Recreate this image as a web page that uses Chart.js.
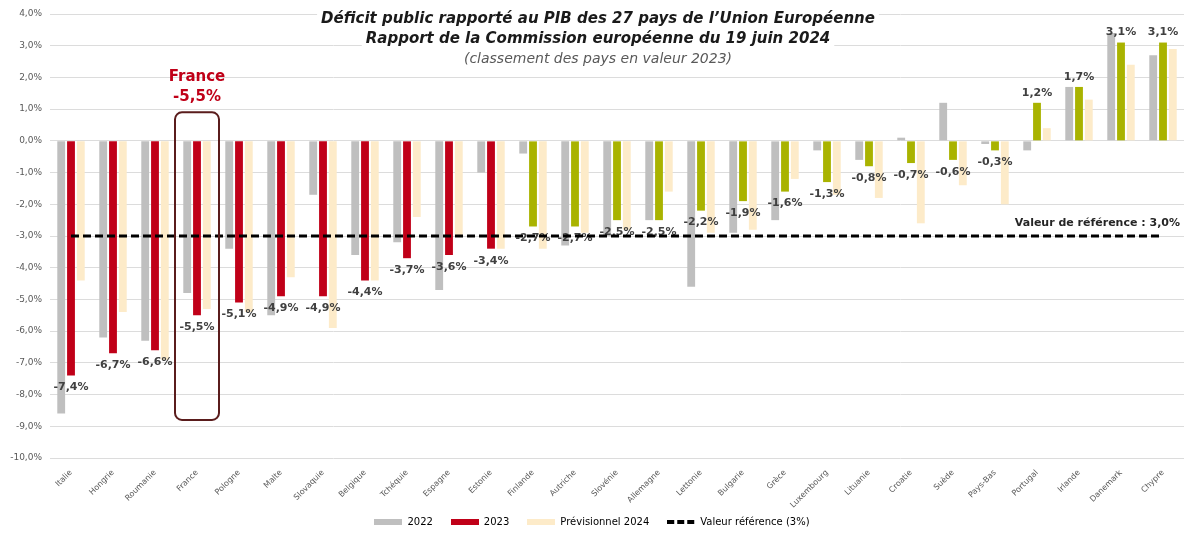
<!DOCTYPE html>
<html lang="fr">
<head>
<meta charset="utf-8">
<title>Déficit public UE 2022-2024</title>
<script src="https://cdn.jsdelivr.net/npm/chart.js@4.4.1/dist/chart.umd.min.js"></script>
<style>
  html, body { margin: 0; padding: 0; background: #fff; }
  #wrap { width: 1186px; height: 533px; }
</style>
</head>
<body>
<div id="wrap"><canvas id="chart" width="1186" height="533"></canvas></div>
<script>
// Données : déficit public en % du PIB (classement sur 2023)
const countries = ['Italie', 'Hongrie', 'Roumanie', 'France', 'Pologne', 'Malte', 'Slovaquie', 'Belgique',
    'Tchéquie', 'Espagne', 'Estonie', 'Finlande', 'Autriche', 'Slovénie', 'Allemagne', 'Lettonie', 'Bulgarie',
    'Grèce', 'Luxembourg', 'Lituanie', 'Croatie', 'Suède', 'Pays-Bas', 'Portugal', 'Irlande', 'Danemark', 'Chypre'];
const deficit2022 = [-8.6, -6.2, -6.3, -4.8, -3.4, -5.5, -1.7, -3.6, -3.2, -4.7, -1.0, -0.4, -3.3, -3.0, -2.5,
    -4.6, -2.9, -2.5, -0.3, -0.6, 0.1, 1.2, -0.1, -0.3, 1.7, 3.4, 2.7];
const deficit2023 = [-7.4, -6.7, -6.6, -5.5, -5.1, -4.9, -4.9, -4.4, -3.7, -3.6, -3.4, -2.7, -2.7, -2.5, -2.5,
    -2.2, -1.9, -1.6, -1.3, -0.8, -0.7, -0.6, -0.3, 1.2, 1.7, 3.1, 3.1];
const forecast2024 = [-4.4, -5.4, -6.9, -5.3, -5.4, -4.3, -5.9, -4.4, -2.4, -3.0, -3.4, -3.4, -2.9, -2.8, -1.6,
    -2.9, -2.8, -1.2, -1.7, -1.8, -2.6, -1.4, -2.0, 0.4, 1.3, 2.4, 2.9];
const referenceValue = -3.0;
const yTicks = { min: -10, max: 4, step: 1 };
const titleLines = [
    'Déficit public rapporté au PIB des 27 pays de l\u2019Union Européenne',
    'Rapport de la Commission européenne du 19 juin 2024',
    '(classement des pays en valeur 2023)'
];

const GREY = '#bfbfbf', RED = '#c00018', GREEN = '#a9b300', BEIGE = '#fdebc9';
const FONT = '"DejaVu Sans", sans-serif';
const pct = v => v.toFixed(1).replace('.', ',') + '%';

// couleur 2023 : rouge au-delà de la valeur de référence, vert sinon
const colors2023 = deficit2023.map(v => v < referenceValue ? RED : GREEN);

// petites vignettes pour la légende
function swatch(color, dashed) {
    const c = document.createElement('canvas');
    c.width = 28; c.height = 6;
    const g = c.getContext('2d');
    g.fillStyle = color;
    if (dashed) { for (let x = 0; x < 28; x += 10) g.fillRect(x, 1, 7, 4); }
    else g.fillRect(0, 0, 28, 6);
    return c;
}

// légende plus basse : on réserve peu de hauteur puis on la recale en bas du canvas
const legendHeight = {
    id: 'legendHeight',
    beforeLayout(chart) {
        const lg = chart.legend;
        if (!lg || lg._fixed) return;
        const fit = lg.fit;
        lg.fit = function () { fit.call(this); this.height = 22; };
        lg._fixed = true;
    },
    afterLayout(chart) {
        const lg = chart.legend;
        if (!lg) return;
        lg.top = chart.height - 34;
        lg.bottom = chart.height;
    }
};

const titleBlock = {
    id: 'titleBlock',
    beforeDatasetsDraw(chart) {
        const ctx = chart.ctx, cx = 598;
        const fonts = ['italic bold 15px ' + FONT, 'italic bold 15px ' + FONT, 'italic 14px ' + FONT];
        const ys = [19, 39, 59];
        ctx.save();
        ctx.textAlign = 'center';
        ctx.textBaseline = 'middle';
        titleLines.forEach((t, i) => {
            ctx.font = fonts[i];
            const w = ctx.measureText(t).width;
            ctx.fillStyle = '#fff';
            ctx.fillRect(cx - w / 2 - 4, ys[i] - 10, w + 8, 21);
        });
        titleLines.forEach((t, i) => {
            ctx.font = fonts[i];
            ctx.fillStyle = i < 2 ? '#1a1a1a' : '#595959';
            ctx.fillText(t, cx, ys[i]);
        });
        ctx.restore();
    }
};

// étiquettes de valeur 2023, dessinées après les barres et avant la ligne de référence
const valueLabels = {
    id: 'valueLabels',
    afterDatasetDraw(chart, args) {
        if (args.index !== 0) return;
        const ctx = chart.ctx;
        const meta = chart.getDatasetMeta(1);
        ctx.save();
        ctx.font = 'bold 11px ' + FONT;
        ctx.fillStyle = '#404040';
        ctx.textAlign = 'center';
        ctx.textBaseline = 'middle';
        meta.data.forEach((bar, i) => {
            const v = deficit2023[i];
            ctx.fillText(pct(v), bar.x, v < 0 ? bar.y + 12 : bar.y - 10);
        });
        ctx.restore();
    }
};

const annotations = {
    id: 'annotations',
    afterDatasetsDraw(chart) {
        const ctx = chart.ctx, x = chart.scales.x, y = chart.scales.y;
        const fi = countries.indexOf('France');
        const cx = x.getPixelForValue(fi);
        const top = y.getPixelForValue(0.9), bottom = y.getPixelForValue(-8.8);
        ctx.save();
        ctx.strokeStyle = '#5a1c1c';
        ctx.lineWidth = 2;
        ctx.beginPath();
        ctx.roundRect(cx - 22, top, 44, bottom - top, 7);
        ctx.stroke();
        ctx.fillStyle = RED;
        ctx.font = 'bold 15px ' + FONT;
        ctx.textAlign = 'center';
        ctx.textBaseline = 'middle';
        ctx.fillText('France', cx, 77);
        ctx.fillText(pct(deficit2023[fi]), cx, 97);
        ctx.font = 'bold 11px ' + FONT;
        ctx.fillStyle = '#262626';
        ctx.textAlign = 'right';
        ctx.fillText('Valeur de référence : ' + pct(-referenceValue), 1180, y.getPixelForValue(referenceValue) - 13);
        ctx.restore();
    }
};

new Chart(document.getElementById('chart'), {
    data: {
        labels: countries,
        datasets: [
            { type: 'bar', label: '2022', data: deficit2022, backgroundColor: GREY, order: 1,
              categoryPercentage: 0.7, barPercentage: 0.8 },
            { type: 'bar', label: '2023', data: deficit2023, backgroundColor: colors2023, order: 1,
              categoryPercentage: 0.7, barPercentage: 0.8 },
            { type: 'bar', label: 'Prévisionnel 2024', data: forecast2024, backgroundColor: BEIGE, order: 1,
              categoryPercentage: 0.7, barPercentage: 0.8 },
            { type: 'line', label: 'Valeur référence (3%)', data: countries.map(() => referenceValue),
              borderColor: '#000', borderWidth: 3, borderDash: [8, 4], pointRadius: 0, fill: false, order: 0 }
        ]
    },
    options: {
        responsive: false,
        animation: false,
        devicePixelRatio: 1,
        layout: { padding: { top: 14, right: 2, left: 0, bottom: 0 } },
        plugins: {
            tooltip: { enabled: false },
            title: { display: false },
            legend: {
                position: 'bottom',
                labels: {
                    usePointStyle: true,
                    pointStyleWidth: 28,
                    padding: 18,
                    color: '#595959',
                    font: { family: FONT, size: 10 },
                    generateLabels(chart) {
                        const sw = [swatch(GREY), swatch(RED), swatch(BEIGE), swatch('#000', true)];
                        return chart.data.datasets.map((ds, i) => ({
                            text: ds.label, datasetIndex: i, pointStyle: sw[i],
                            fillStyle: 'transparent', strokeStyle: 'transparent', lineWidth: 0, hidden: false
                        }));
                    }
                }
            }
        },
        scales: {
            x: {
                afterFit(s) { s.height = 53; },
                grid: { display: false },
                border: { display: false },
                ticks: { minRotation: 45, maxRotation: 45, padding: 2, color: '#595959', font: { family: FONT, size: 8 } }
            },
            y: {
                min: yTicks.min, max: yTicks.max,
                afterFit(s) { s.width = 50; },
                grid: { color: '#dcdcdc', drawTicks: false },
                border: { display: false },
                ticks: { stepSize: yTicks.step, padding: 8, color: '#595959', font: { family: FONT, size: 9 }, callback: v => pct(v) }
            }
        }
    },
    plugins: [legendHeight, titleBlock, valueLabels, annotations]
});
</script>
</body>
</html>
